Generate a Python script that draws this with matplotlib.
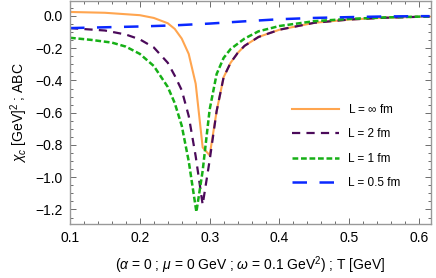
import numpy as np
import matplotlib
matplotlib.use('Agg')
import matplotlib.pyplot as plt
from matplotlib.ticker import MultipleLocator

plt.rcParams['font.family'] = ['Liberation Sans', 'DejaVu Sans']
plt.rcParams['mathtext.fontset'] = 'custom'
plt.rcParams['mathtext.rm'] = 'Liberation Sans'
plt.rcParams['mathtext.it'] = 'Liberation Sans:italic'

# L = infinity fm
T_inf = [0.10, 0.15, 0.20, 0.22, 0.24, 0.25, 0.26, 0.27, 0.28, 0.29, 0.30, 0.31,
         0.32, 0.33, 0.34, 0.35, 0.37, 0.40, 0.45, 0.50, 0.55, 0.60, 0.615]
chi_inf = [0.025, 0.02, 0.005, -0.012, -0.045, -0.08, -0.14, -0.235, -0.42, -0.815, -0.864, -0.59,
           -0.38, -0.29, -0.23, -0.185, -0.13, -0.085, -0.042, -0.022, -0.011, -0.005, -0.004]

# L = 2 fm
T_2 = [0.10, 0.15, 0.18, 0.20, 0.22, 0.24, 0.25, 0.26, 0.27, 0.28, 0.29, 0.30, 0.31,
       0.32, 0.33, 0.34, 0.35, 0.37, 0.40, 0.45, 0.50, 0.55, 0.60, 0.615]
chi_2 = [-0.075, -0.09, -0.115, -0.145, -0.195, -0.29, -0.37, -0.46, -0.62, -0.87, -1.17, -0.895, -0.59,
         -0.38, -0.29, -0.23, -0.185, -0.13, -0.085, -0.042, -0.022, -0.011, -0.005, -0.004]

# L = 1 fm
T_1 = [0.10, 0.13, 0.16, 0.18, 0.20, 0.22, 0.24, 0.25, 0.26, 0.27, 0.281, 0.29, 0.30, 0.31,
       0.32, 0.33, 0.35, 0.37, 0.40, 0.45, 0.50, 0.55, 0.60, 0.615]
chi_1 = [-0.135, -0.148, -0.165, -0.19, -0.235, -0.31, -0.44, -0.54, -0.68, -0.9, -1.215, -0.96, -0.58, -0.36,
         -0.26, -0.205, -0.14, -0.095, -0.062, -0.032, -0.018, -0.009, -0.004, -0.003]

# L = 0.5 fm
T_05 = [0.10, 0.15, 0.20, 0.25, 0.30, 0.35, 0.40, 0.45, 0.50, 0.55, 0.60, 0.615]
chi_05 = [-0.075, -0.07, -0.065, -0.058, -0.047, -0.033, -0.02, -0.012, -0.007, -0.003, -0.001, -0.001]

labels = [r'L = $\infty$ fm', 'L = 2 fm', 'L = 1 fm', 'L = 0.5 fm']

fig = plt.figure(figsize=(4.36, 2.78), dpi=100)
ax = fig.add_axes([70/436, 54/278, 361/436, 223/278])

ax.plot(T_inf, chi_inf, color='#FFA54F', lw=1.5, label=labels[0])
ax.plot(T_2, chi_2, color='#4B0A5A', lw=1.6, dashes=(3.7, 2.8), label=labels[1])
ax.plot(T_1, chi_1, color='#16B016', lw=1.8, dashes=(2.3, 1.1), label=labels[2])
ax.plot(T_05, chi_05, color='#0A28FF', lw=1.8, dashes=(5.8, 5.0), label=labels[3])

ax.set_xlim(0.1, 0.617)
ax.set_ylim(-1.29, 0.093)
ax.xaxis.set_minor_locator(MultipleLocator(0.02))
ax.yaxis.set_minor_locator(MultipleLocator(0.05))
ax.set_xticks([0.1, 0.2, 0.3, 0.4, 0.5, 0.6])
ax.set_xticklabels(['0.1', '0.2', '0.3', '0.4', '0.5', '0.6'])
ax.set_yticks([0.0, -0.2, -0.4, -0.6, -0.8, -1.0, -1.2])
ax.set_yticklabels(['0.0', '\u22120.2', '\u22120.4', '\u22120.6', '\u22120.8', '\u22121.0', '\u22121.2'])

ax.tick_params(which='both', direction='in', top=True, right=True, color='#555555',
               labelsize=10, width=0.6)
ax.tick_params(axis='y', which='major', length=4, pad=5)
ax.tick_params(axis='x', which='major', length=4, pad=5)
ax.tick_params(which='minor', length=2.2)
for s in ax.spines.values():
    s.set_color('#999999')
    s.set_linewidth(1.0)

ax.set_ylabel(r'$\chi_c$ [GeV]$^2$ ; ABC', fontsize=10, labelpad=4)
ax.set_xlabel(r'($\alpha$ = 0 ; $\mu$ = 0 GeV ; $\omega$ = 0.1 GeV$^2$) ; T [GeV]',
              fontsize=10, labelpad=7)

ax.legend(loc='upper left', bbox_to_anchor=(0.586, 0.59), frameon=False, fontsize=8.5,
          handlelength=4.0, labelspacing=1.05, handletextpad=0.75)

fig.savefig('out.png', dpi=100)
